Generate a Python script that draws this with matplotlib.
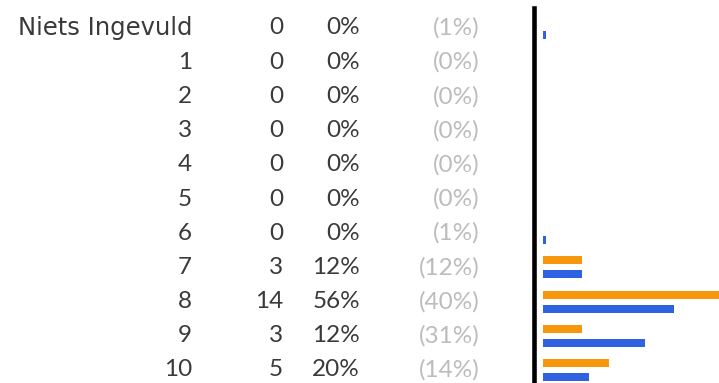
import matplotlib.pyplot as plt
import numpy as np

# Antwoordverdeling per score
labels = ['Niets Ingevuld', '1', '2', '3', '4', '5', '6', '7', '8', '9', '10']
counts = [0, 0, 0, 0, 0, 0, 0, 3, 14, 3, 5]
pct = [0, 0, 0, 0, 0, 0, 0, 12, 56, 12, 20]
pct_ref = [1, 0, 0, 0, 0, 0, 1, 12, 40, 31, 14]

W, H = 719, 383
orange = '#f7980c'
blue = '#2f62e0'
fs = 17.5
txt = dict(ha='right', va='center', fontsize=fs, color='#3a3a3a')

fig = plt.figure(figsize=(W / 100, H / 100), dpi=100)

# rijposities: eerste rij op 28 px, afstand 34.2 px
row0, step = 28, 34.2
ytop = (0 - row0) / step
ybot = (H - row0) / step
y = np.arange(len(labels))

# tekstkolommen over de hele breedte, x in pixels
axt = fig.add_axes([0, 0, 1, 1])
axt.set_xlim(0, W)
axt.set_ylim(ybot, ytop)
axt.axis('off')
for i in range(len(labels)):
    lab_font = 'DejaVu Sans' if not labels[i].isdigit() else 'Lato'
    axt.text(192, y[i], labels[i], fontname=lab_font, **txt)
    axt.text(283, y[i], str(counts[i]), fontname='Lato', **txt)
    axt.text(360, y[i], f'{pct[i]}%', fontname='Lato', **txt)
    axt.text(480, y[i], f'({pct_ref[i]}%)', ha='right', va='center', fontsize=fs,
             color='#bcbcbc', fontname='Lato')

# staafdiagram rechts
px_per_pct = 3.28
left_px = 534
ax = fig.add_axes([left_px / W, 0, 1 - left_px / W, 1])
ax.set_xlim(-9 / px_per_pct, (W - left_px - 9) / px_per_pct)
ax.set_ylim(ybot, ytop)
off = 7 / step
hgt = 8 / step
ax.barh(y - off, pct, height=hgt, color=orange, linewidth=0)
ax.barh(y + off, pct_ref, height=hgt, color=blue, linewidth=0)

for s in ['top', 'right', 'bottom']:
    ax.spines[s].set_visible(False)
ax.spines['left'].set_linewidth(3.3)
ax.spines['left'].set_color('black')
ax.spines['left'].set_bounds((8 - row0) / step, ybot)
ax.set_xticks([])
ax.set_yticks([])
ax.patch.set_alpha(0)

fig.savefig('out.png', dpi=100)
